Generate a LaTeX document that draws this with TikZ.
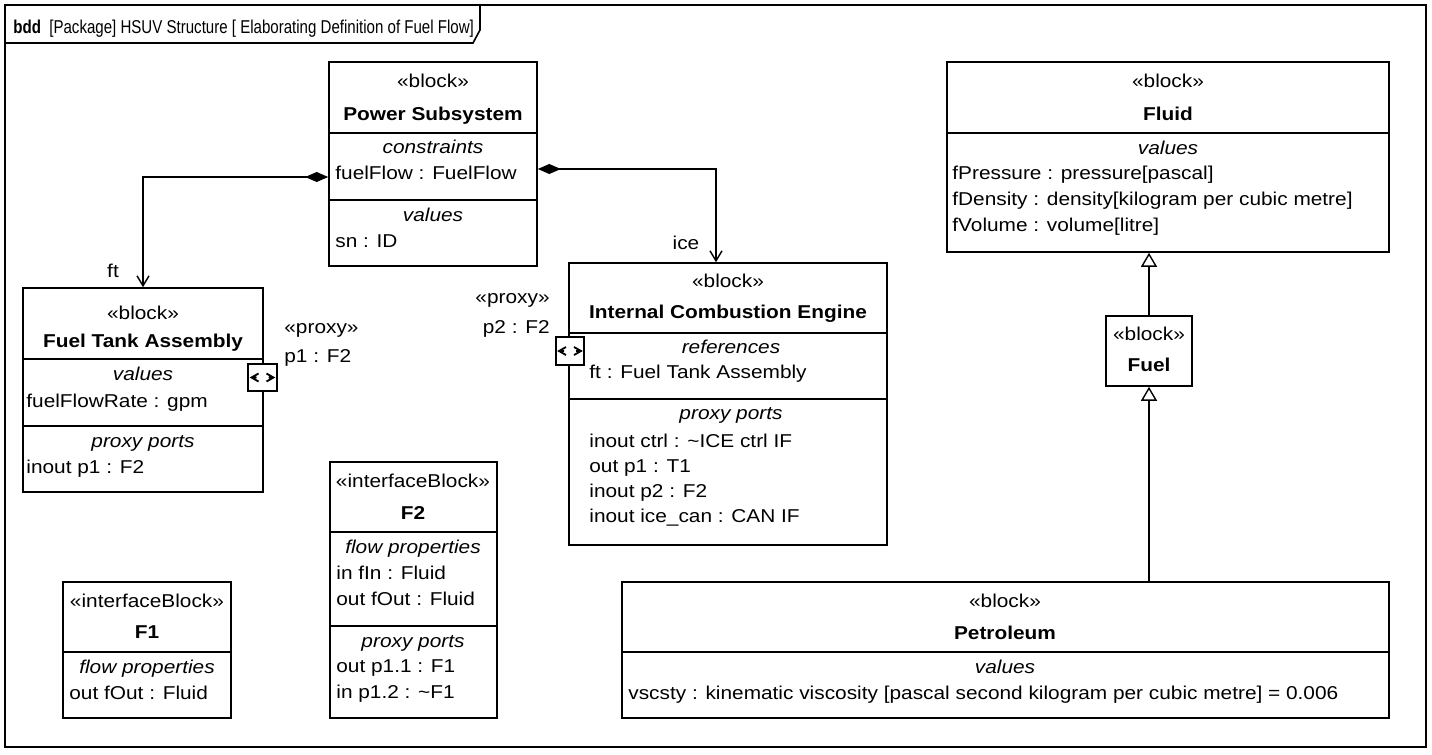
\documentclass[tikz,border=0pt]{standalone}
\usepackage{fontspec}
\setmainfont{Liberation Sans}[FakeStretch=1.12]
\newfontfamily\titlefont{Liberation Sans}[FakeStretch=0.81]
\usetikzlibrary{arrows.meta, fit}
\AtBeginDocument{\fontsize{9.3}{11}\selectfont}

\begin{document}
\begin{tikzpicture}[x=0.5pt, y=-0.5pt,
	blk/.style = {draw, line width=0.8pt, inner sep=0pt},
	prt/.style = {draw, fill=white, line width=0.8pt, inner sep=0pt},
	divider/.style = {line width=0.8pt},
	txt/.style = {anchor=base, inner sep=0pt},
	prop/.style = {anchor=base west, inner sep=0pt},
	kw/.style = {txt, font=\itshape},
	nm/.style = {txt, font=\bfseries},
	comp/.style = {line width=0.7pt, {Diamond[length=11.5pt, width=5pt]}-{Straight Barb[length=5pt, width=6pt]}},
	gen/.style = {line width=0.7pt, -{Triangle[open, fill=white, length=7pt, width=8pt]}},
	sym/.style = {line width=0.9pt}
	]
\useasboundingbox (0,0) rectangle (1432,755);
% frame
\node[blk, fit={(5,5) (1426,747)}] (frame) {};
\draw[divider] (frame.west |- 0,43) -- (473,43) -- (480,30) -- (frame.north -| 480,0);
\node[prop] (title) at (13,33) {\titlefont\textbf{bdd}\ \ [Package] HSUV Structure [ Elaborating Definition of Fuel Flow]};
%
% Power Subsystem
\node[blk, fit={(329,62) (537,266)}] (ps) {};
\node[txt] (ps-st) at (433,87) {«block»};
\node[nm] (ps-nm) at (433,120) {Power Subsystem};
\draw[divider] (ps.west |- 0,133) -- (ps.east |- 0,133);
\node[kw] (ps-c) at (433,153) {constraints};
\node[prop] (ps-c1) at (335,179) {fuelFlow : FuelFlow};
\draw[divider] (ps.west |- 0,200) -- (ps.east |- 0,200);
\node[kw] (ps-v) at (433,221) {values};
\node[prop] (ps-v1) at (335,247) {sn : ID};
%
% Fuel Tank Assembly
\node[blk, fit={(23,288) (263,492)}] (fta) {};
\node[txt] (fta-st) at (143,319) {«block»};
\node[nm] (fta-nm) at (143,347) {Fuel Tank Assembly};
\draw[divider] (fta.west |- 0,359) -- (fta.east |- 0,359);
\node[kw] (fta-v) at (143,380) {values};
\node[prop] (fta-v1) at (26,407) {fuelFlowRate : gpm};
\draw[divider] (fta.west |- 0,426) -- (fta.east |- 0,426);
\node[kw] (fta-p) at (143,447) {proxy ports};
\node[prop] (fta-p1) at (26,473) {inout p1 : F2};
\node[prt, fit={(248,364) (277,391)}] (fta-port) {};
\draw[sym, shift={(fta-port.center)}] (-4,-4) -- (-11,0) -- (-4,4) (-11,0) -- (-6,0) (4,-4) -- (11,0) -- (4,4) (11,0) -- (6,0);
\node[prop] (fta-pl1) at (284,333) {«proxy»};
\node[prop] (fta-pl2) at (284,362) {p1 : F2};
%
% Internal Combustion Engine
\node[blk, fit={(569,263) (887,545)}] (ice) {};
\node[txt] (ice-st) at (728,287) {«block»};
\node[nm] (ice-nm) at (728,318) {Internal Combustion Engine};
\draw[divider] (ice.west |- 0,333) -- (ice.east |- 0,333);
\node[kw] (ice-r) at (731,353) {references};
\node[prop] (ice-r1) at (589,378) {ft : Fuel Tank Assembly};
\draw[divider] (ice.west |- 0,399) -- (ice.east |- 0,399);
\node[kw] (ice-p) at (731,419) {proxy ports};
\node[prop] (ice-p1) at (589,447) {inout ctrl : \textasciitilde ICE ctrl IF};
\node[prop] (ice-p2) at (589,472) {out p1 : T1};
\node[prop] (ice-p3) at (589,497) {inout p2 : F2};
\node[prop] (ice-p4) at (589,522) {inout ice\_can : CAN IF};
\node[prt, fit={(556,337) (584,365)}] (ice-port) {};
\draw[sym, shift={(ice-port.center)}] (-4,-4) -- (-11,0) -- (-4,4) (-11,0) -- (-6,0) (4,-4) -- (11,0) -- (4,4) (11,0) -- (6,0);
\node[anchor=base east, inner sep=0pt] (ice-pl1) at (550,303) {«proxy»};
\node[anchor=base east, inner sep=0pt] (ice-pl2) at (550,333) {p2 : F2};
%
% F2
\node[blk, fit={(330,462) (497,718)}] (ftwo) {};
\node[txt] (ftwo-st) at (413,487) {«interfaceBlock»};
\node[nm] (ftwo-nm) at (413,519) {F2};
\draw[divider] (ftwo.west |- 0,532) -- (ftwo.east |- 0,532);
\node[kw] (ftwo-f) at (413,553) {flow properties};
\node[prop] (ftwo-f1) at (336,579) {in fIn : Fluid};
\node[prop] (ftwo-f2) at (336,605) {out fOut : Fluid};
\draw[divider] (ftwo.west |- 0,626) -- (ftwo.east |- 0,626);
\node[kw] (ftwo-p) at (413,647) {proxy ports};
\node[prop] (ftwo-p1) at (336,672) {out p1.1 : F1};
\node[prop] (ftwo-p2) at (336,698) {in p1.2 : \textasciitilde F1};
%
% F1
\node[blk, fit={(63,582) (231,718)}] (fone) {};
\node[txt] (fone-st) at (147,607) {«interfaceBlock»};
\node[nm] (fone-nm) at (147,638) {F1};
\draw[divider] (fone.west |- 0,652) -- (fone.east |- 0,652);
\node[kw] (fone-f) at (147,673) {flow properties};
\node[prop] (fone-f1) at (69,699) {out fOut : Fluid};
%
% Fluid
\node[blk, fit={(947,62) (1389,252)}] (fluid) {};
\node[txt] (fluid-st) at (1168,87) {«block»};
\node[nm] (fluid-nm) at (1168,120) {Fluid};
\draw[divider] (fluid.west |- 0,133) -- (fluid.east |- 0,133);
\node[kw] (fluid-v) at (1168,154) {values};
\node[prop] (fluid-v1) at (952,179) {fPressure : pressure[pascal]};
\node[prop] (fluid-v2) at (952,205) {fDensity : density[kilogram per cubic metre]};
\node[prop] (fluid-v3) at (952,231) {fVolume : volume[litre]};
%
% Fuel
\node[blk, fit={(1106,316) (1192,386)}] (fuel) {};
\node[txt] (fuel-st) at (1149,340) {«block»};
\node[nm] (fuel-nm) at (1149,371) {Fuel};
%
% Petroleum
\node[blk, fit={(622,582) (1389,718)}] (petro) {};
\node[txt] (petro-st) at (1005,607) {«block»};
\node[nm] (petro-nm) at (1005,639) {Petroleum};
\draw[divider] (petro.west |- 0,652) -- (petro.east |- 0,652);
\node[kw] (petro-v) at (1005,673) {values};
\node[prop] (petro-v1) at (628,699) {vscsty : kinematic viscosity [pascal second kilogram per cubic metre] = 0.006};
%
% connectors
\draw[comp] (ps.west |- 0,177) -| (fta.north);
\draw[comp] (ps.east |- 0,169) -| ([xshift=-6pt]ice.north);
\node[txt] (lbl-ft) at (113,277) {ft};
\node[txt] (lbl-ice) at (686,249) {ice};
\draw[gen] (fuel.north) -- (fuel.north |- fluid.south);
\draw[gen] (petro.north -| fuel.south) -- (fuel.south);
\end{tikzpicture}
\end{document}
